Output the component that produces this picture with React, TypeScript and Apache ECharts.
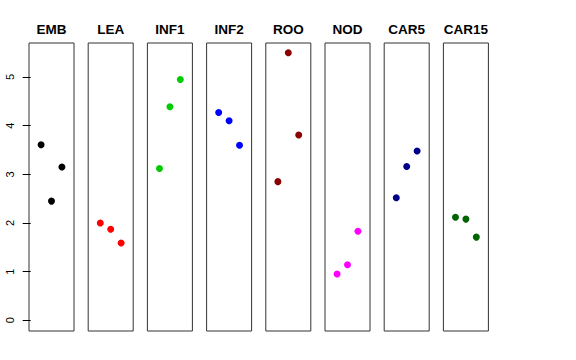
import React, { useEffect, useRef } from "react";
import * as echarts from "echarts";

const panels = ["EMB", "LEA", "INF1", "INF2", "ROO", "NOD", "CAR5", "CAR15"];
const colors = ["#000000", "#FF0000", "#00CD00", "#0000FF", "#8B0000", "#FF00FF", "#00008B", "#006400"];
const xPositions = [1, 2, 3];
const values: number[][] = [
  [3.61, 2.45, 3.15],
  [2.0, 1.87, 1.59],
  [3.12, 4.39, 4.95],
  [4.27, 4.1, 3.6],
  [2.85, 5.5, 3.81],
  [0.95, 1.14, 1.83],
  [2.52, 3.16, 3.48],
  [2.12, 2.08, 1.71],
];
const yTicks = [0, 1, 2, 3, 4, 5];

export default function App() {
  const ref = useRef<HTMLDivElement>(null);
  useEffect(() => {
    if (!ref.current) return;
    const chart = echarts.init(ref.current, null, { renderer: "svg" });
    const left0 = 29;
    const pitch = 59.2;
    const w = 45;
    const top = 43;
    const h = 288;
    const grids = panels.map((_, i) => ({
      left: left0 + i * pitch,
      top,
      width: w,
      height: h,
      show: true,
      borderColor: "#333",
      borderWidth: 1,
      backgroundColor: "transparent",
      containLabel: false,
    }));
    const xAxes = panels.map((_, i) => ({
      type: "value",
      gridIndex: i,
      min: -0.16,
      max: 4.16,
      show: false,
    }));
    const yAxes = panels.map((_, i) => ({
      type: "value",
      gridIndex: i,
      min: -0.22,
      max: 5.7,
      show: i === 0,
      axisLine: { show: false },
      splitLine: { show: false },
      axisTick: {
        show: i === 0,
        length: 8,
        customValues: yTicks,
        lineStyle: { color: "#000", width: 1 },
      },
      axisLabel: {
        show: i === 0,
        customValues: yTicks,
        rotate: 90,
        margin: 14,
        fontSize: 11,
        fontFamily: "Liberation Sans",
        color: "#000",
      },
    }));
    const series = panels.map((name, i) => ({
      type: "scatter",
      name,
      xAxisIndex: i,
      yAxisIndex: i,
      symbol: "circle",
      symbolSize: 7,
      itemStyle: { color: colors[i], opacity: 1 },
      data: xPositions.map((x, j) => [x, values[i][j]]),
    }));
    const graphic = panels.map((name, i) => ({
      type: "text",
      x: left0 + i * pitch + w / 2,
      y: 29,
      style: {
        text: name,
        textAlign: "center",
        textVerticalAlign: "middle",
        fontSize: 13.5,
        fontWeight: "bold",
        fontFamily: "Liberation Sans",
        fill: "#000",
      },
    }));
    chart.setOption({
      animation: false,
      backgroundColor: "#fff",
      grid: grids,
      xAxis: xAxes,
      yAxis: yAxes,
      series,
      graphic,
    });
    return () => chart.dispose();
  }, []);
  return (
    <div
      ref={ref}
      style={{ position: "absolute", left: 0, top: 0, width: 576, height: 360 }}
    />
  );
}
